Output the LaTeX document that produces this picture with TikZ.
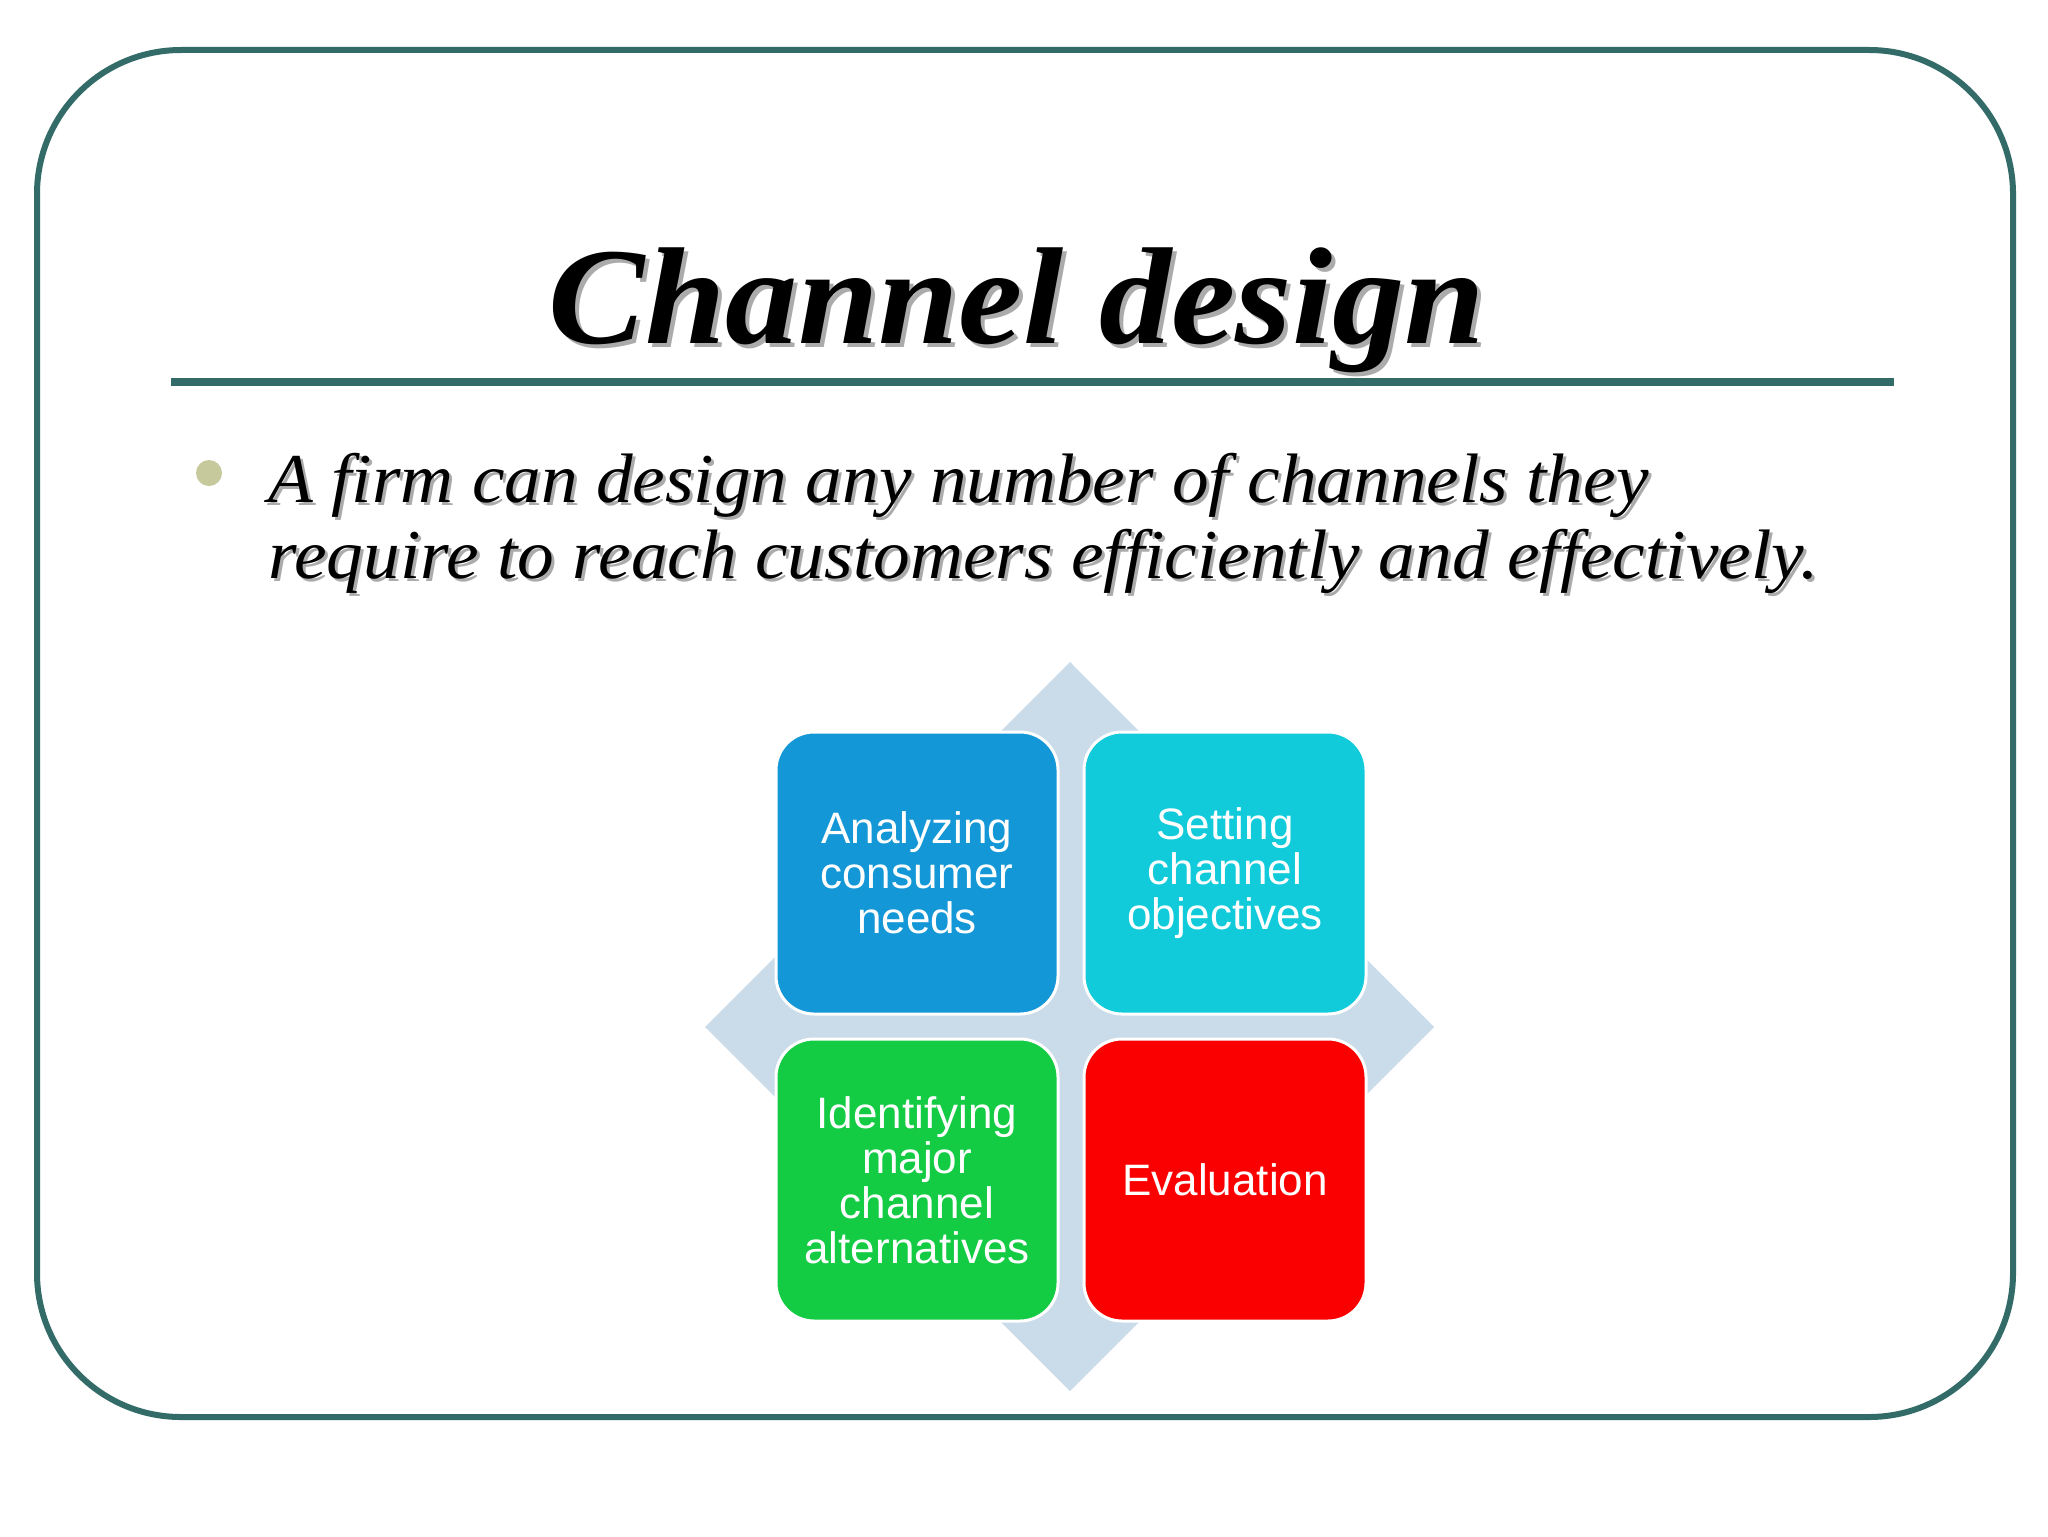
\documentclass[tikz,border=0pt]{standalone}
\usepackage{fontspec}
\setmainfont{Liberation Serif}
\newfontfamily\boxfont{Liberation Sans}
\usepackage{graphicx}
\definecolor{frameteal}{HTML}{326B68}
\definecolor{bulletolive}{HTML}{C6C99C}
\definecolor{diamondblue}{HTML}{CADBEA}
\definecolor{boxblue}{HTML}{1497D6}
\definecolor{boxteal}{HTML}{12CBDA}
\definecolor{boxgreen}{HTML}{14CB44}
\definecolor{boxred}{HTML}{FA0000}
\definecolor{shadowgray}{HTML}{ABABAB}
\tikzset{
  stagebox/.style={draw=white, line width=1.5pt, rounded corners=19pt,
    minimum width=141pt, minimum height=141pt, inner sep=0pt,
    font=\boxfont\fontsize{22}{22.5}\selectfont, text=white, align=center},
  titletext/.style={anchor=base, inner sep=0pt, font=\bfseries\itshape\fontsize{69}{70}\selectfont},
  bodytext/.style={anchor=base west, inner sep=0pt, font=\itshape\fontsize{35}{36}\selectfont},
}
\begin{document}
\begin{tikzpicture}[x=0.5pt,y=-0.5pt]
\useasboundingbox (0,0) rectangle (2048,1536);
% frame
\draw[frameteal, line width=3pt, rounded corners=72pt] (37,50) rectangle (2013,1417);
% title
\node[titletext, text=shadowgray] (titleshadow) at (1021,347) {\resizebox{468pt}{\height}{Channel design}};
\node[titletext] (title) at (1017,343) {\resizebox{468pt}{\height}{Channel design}};
\draw[frameteal, line width=4pt] (171,382) -- (1894,382);
% bullet
\fill[bulletolive] (209,473) circle (6.5pt);
\node[bodytext, text=shadowgray] (l1s) at (271,505) {\resizebox{690pt}{\height}{A firm can design any number of channels they}};
\node[bodytext] (l1) at (268,502) {\resizebox{690pt}{\height}{A firm can design any number of channels they}};
\node[bodytext, text=shadowgray] (l2s) at (271,581) {\resizebox{775pt}{\height}{require to reach customers efficiently and effectively.}};
\node[bodytext] (l2) at (268,578) {\resizebox{775pt}{\height}{require to reach customers efficiently and effectively.}};
% diagram
\fill[diamondblue] (1070,662) -- (1434,1027) -- (1070,1391) -- (705,1027) -- cycle;
\node[stagebox, fill=boxblue] (analyze) at (917,873) {Analyzing\\consumer\\needs};
\node[stagebox, fill=boxteal] (setting) at (1225,873) {Setting\\channel\\objectives};
\node[stagebox, fill=boxgreen] (identify) at (917,1180) {Identifying\\major\\channel\\alternatives};
\node[stagebox, fill=boxred] (evaluation) at (1225,1180) {Evaluation};
\end{tikzpicture}
\end{document}
